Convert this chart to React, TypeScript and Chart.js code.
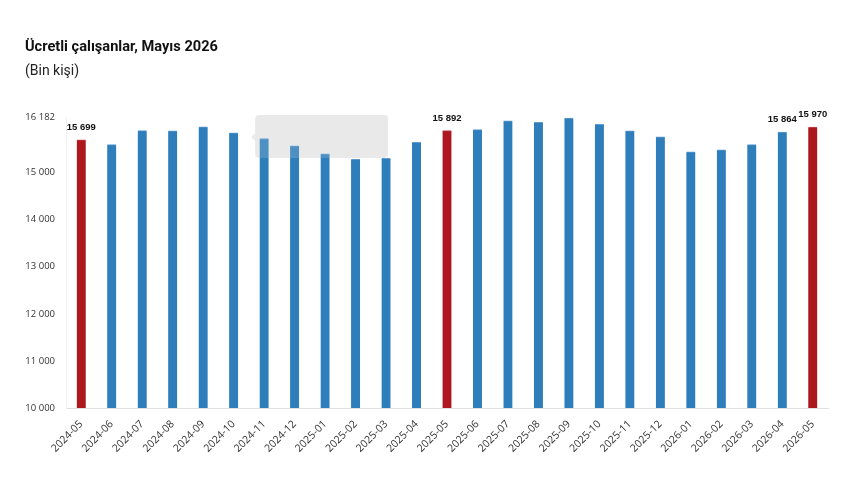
import React, { useEffect, useRef } from "react";
import { Chart, registerables } from "chart.js";

Chart.register(...registerables);

const categories = [
  "2024-05", "2024-06", "2024-07", "2024-08", "2024-09", "2024-10", "2024-11", "2024-12",
  "2025-01", "2025-02", "2025-03", "2025-04", "2025-05", "2025-06", "2025-07", "2025-08",
  "2025-09", "2025-10", "2025-11", "2025-12", "2026-01", "2026-02", "2026-03", "2026-04", "2026-05",
];
const values = [
  15699, 15596, 15894, 15887, 15972, 15844, 15723, 15568,
  15398, 15283, 15304, 15645, 15892, 15915, 16100, 16070,
  16160, 16028, 15887, 15760, 15440, 15483, 15596, 15864, 15970,
];
const highlighted = ["2024-05", "2025-05", "2026-05"];
const labelled = ["2024-05", "2025-05", "2026-04", "2026-05"];
const yTicks = [10000, 11000, 12000, 13000, 14000, 15000, 16182];
const yMin = 10000;
const yMax = 16182;

const BLUE = "#2f7ebc";
const BLUE_EDGE = "#5c9bd0";
const RED = "#ad171e";
const RED_EDGE = "#c8454b";

const fmt = (v: number) => String(Math.round(v)).replace(/\B(?=(\d{3})+(?!\d))/g, " ");

const labelPlugin = {
  id: "barLabels",
  afterDatasetsDraw(chart: any) {
    const ctx = chart.ctx;
    const meta = chart.getDatasetMeta(0);
    ctx.save();
    ctx.font = "bold 9.5px 'Liberation Sans', Arial, sans-serif";
    ctx.fillStyle = "#111";
    ctx.textAlign = "center";
    ctx.textBaseline = "bottom";
    meta.data.forEach((bar: any, i: number) => {
      if (!labelled.includes(categories[i])) return;
      ctx.fillText(fmt(values[i]), bar.x, bar.y - 8);
    });
    ctx.restore();
  },
};

const tooltipGhost = {
  id: "tooltipGhost",
  beforeDatasetsDraw(chart: any) {
    const ctx = chart.ctx;
    const xs = chart.scales.x;
    const area = chart.chartArea;
    const cx = xs.getPixelForValue(6);
    const x = cx - 9;
    const y = area.top - 2;
    const w = 133;
    const h = 43;
    const r = 5;
    ctx.save();
    ctx.fillStyle = "#ebebeb";
    ctx.beginPath();
    ctx.moveTo(x + r, y);
    ctx.lineTo(x + w - r, y);
    ctx.quadraticCurveTo(x + w, y, x + w, y + r);
    ctx.lineTo(x + w, y + h - r);
    ctx.quadraticCurveTo(x + w, y + h, x + w - r, y + h);
    ctx.lineTo(x + r, y + h);
    ctx.quadraticCurveTo(x, y + h, x, y + h - r);
    ctx.lineTo(x, y + 26);
    ctx.lineTo(x - 4, y + 22);
    ctx.lineTo(x, y + 18);
    ctx.lineTo(x, y + r);
    ctx.quadraticCurveTo(x, y, x + r, y);
    ctx.closePath();
    ctx.fill();
    ctx.restore();
  },
  afterDatasetsDraw(chart: any) {
    const ctx = chart.ctx;
    const xs = chart.scales.x;
    const area = chart.chartArea;
    const cx = xs.getPixelForValue(6);
    ctx.save();
    ctx.fillStyle = "rgba(225,225,225,0.18)";
    ctx.fillRect(cx - 9, area.top - 2, 133, 43);
    ctx.restore();
  },
};

export default function App() {
  const ref = useRef<HTMLCanvasElement>(null);

  useEffect(() => {
    document.body.style.margin = "0";
    const canvas = ref.current!;
    const chart = new Chart(canvas, {
      type: "bar",
      data: {
        labels: categories,
        datasets: [
          {
            data: values,
            backgroundColor: categories.map((c) => (highlighted.includes(c) ? RED : BLUE)),
            borderColor: categories.map((c) => (highlighted.includes(c) ? RED_EDGE : BLUE_EDGE)),
            borderWidth: { top: 1, left: 0, right: 0, bottom: 0 } as any,
            barThickness: 9,
          },
        ],
      },
      options: {
        animation: false,
        responsive: false,
        maintainAspectRatio: false,
        layout: { padding: { top: 117, right: 32, left: 0, bottom: 0 } },
        plugins: {
          legend: { display: false },
          tooltip: { enabled: false },
          title: { display: false },
        },
        scales: {
          x: {
            grid: { display: false },
            border: { color: "#e0e0e0" },
            ticks: {
              color: "#333",
              font: { family: "'Open Sans', sans-serif", size: 10.5 },
              minRotation: 45,
              maxRotation: 45,
              padding: 2,
            },
            afterFit(scale: any) {
              scale.height = 96;
            },
          },
          y: {
            min: yMin,
            max: yMax,
            grid: { display: false },
            border: { color: "#f0f0f0" },
            afterBuildTicks(scale: any) {
              scale.ticks = yTicks.map((v) => ({ value: v }));
            },
            ticks: {
              color: "#333",
              font: { family: "'Open Sans', sans-serif", size: 9.5 },
              padding: 3,
              callback: (v: any) => fmt(Number(v)),
            },
            afterFit(scale: any) {
              scale.width = 66;
            },
          },
        },
      },
      plugins: [labelPlugin, tooltipGhost],
    });
    return () => chart.destroy();
  }, []);

  return (
    <div style={{ position: "relative", width: 860, height: 504, background: "#fff" }}>
      <div
        style={{
          position: "absolute",
          left: 25,
          top: 37,
          fontFamily: "Roboto, 'Noto Sans', sans-serif",
          fontWeight: 700,
          fontSize: 14.6,
          color: "#111",
          whiteSpace: "nowrap",
        }}
      >
        Ücretli çalışanlar, Mayıs 2026
      </div>
      <div
        style={{
          position: "absolute",
          left: 25,
          top: 62,
          fontFamily: "Roboto, 'Noto Sans', sans-serif",
          fontSize: 14,
          color: "#222",
          whiteSpace: "nowrap",
        }}
      >
        (Bin kişi)
      </div>
      <canvas ref={ref} width={860} height={504} style={{ display: "block" }} />
    </div>
  );
}
